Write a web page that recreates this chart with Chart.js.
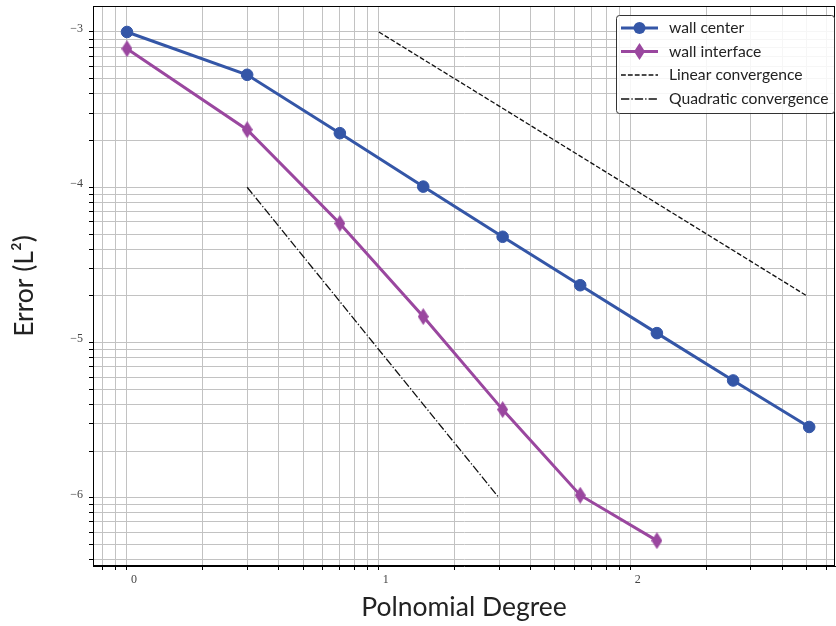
<!DOCTYPE html>
<html>
<head>
<meta charset="utf-8">
<script src="https://cdn.jsdelivr.net/npm/chart.js@4"></script>
<style>
  body { margin: 0; background: #fff; }
</style>
</head>
<body>
<canvas id="myChart" width="836" height="626"></canvas>
<script>
// values (log-log plot)
let degrees = [1, 3, 7, 15, 31, 63, 127, 255, 511];
let wallCenter = [1.0e-3, 5.3e-4, 2.23e-4, 1.01e-4, 4.8e-5, 2.34e-5, 1.15e-5, 5.7e-6, 2.86e-6];
let interfaceDegrees = [1, 3, 7, 15, 31, 63, 127];
let wallInterface = [7.8e-4, 2.35e-4, 5.85e-5, 1.47e-5, 3.7e-6, 1.04e-6, 5.3e-7];
let linearX = [10, 500];
let linearY = [1e-3, 2e-5];
let quadX = [3, 30];
let quadY = [1e-4, 1e-6];

let xMajor = [1, 10, 100];
let xMajorLabels = ["0", "1", "2"];
let yMajor = [1e-3, 1e-4, 1e-5, 1e-6];
let yMajorLabels = ["\u22123", "\u22124", "\u22125", "\u22126"];

const blue = "#3456a7";
const purple = "#9a479f";

function pts(xs, ys) {
  return xs.map((x, i) => ({ x: x, y: ys[i] }));
}

// thin diamond marker
const diamond = document.createElement("canvas");
diamond.width = 11;
diamond.height = 17;
{
  const c = diamond.getContext("2d");
  c.fillStyle = purple;
  c.beginPath();
  c.moveTo(5.5, 0);
  c.lineTo(11, 8.5);
  c.lineTo(5.5, 17);
  c.lineTo(0, 8.5);
  c.closePath();
  c.fill();
}

// log grid: 1..9 x 10^n inside the range
function logTicks(scale) {
  const out = [];
  for (let e = Math.floor(Math.log10(scale.min)); e <= Math.ceil(Math.log10(scale.max)); e++) {
    for (let m = 1; m <= 9; m++) {
      const v = m * Math.pow(10, e);
      if (v >= scale.min && v <= scale.max) out.push({ value: v });
    }
  }
  scale.ticks = out;
}

function noPad(s) {
  s.paddingTop = 0;
  s.paddingBottom = 0;
  s.paddingLeft = 0;
  s.paddingRight = 0;
}

function majorLabel(value, majors, labels) {
  for (let i = 0; i < majors.length; i++) {
    if (Math.abs(value / majors[i] - 1) < 1e-6) return labels[i];
  }
  return "";
}

const framePlugin = {
  id: "frame",
  afterDraw(chart) {
    const { ctx, chartArea: a } = chart;
    ctx.save();
    ctx.strokeStyle = "#000";
    ctx.lineWidth = 1;
    ctx.strokeRect(a.left + 0.5, a.top + 0.5, a.right - a.left - 1, a.bottom - a.top - 1);

    // legend box in the upper right
    const bx = 616, by = 15, bw = 218, bh = 98, r = 3;
    ctx.fillStyle = "rgba(255,255,255,0.85)";
    ctx.strokeStyle = "#333";
    ctx.beginPath();
    ctx.roundRect(bx + 0.5, by + 0.5, bw, bh, r);
    ctx.fill();
    ctx.stroke();

    const rows = [28, 51.5, 75, 99];
    chart.data.datasets.forEach((ds, i) => {
      const y = rows[i];
      ctx.save();
      ctx.strokeStyle = ds.borderColor;
      ctx.lineWidth = ds.borderWidth;
      ctx.setLineDash(ds.borderDash || []);
      ctx.beginPath();
      ctx.moveTo(621, y);
      ctx.lineTo(658, y);
      ctx.stroke();
      ctx.restore();
      if (ds.pointStyle === "circle") {
        ctx.fillStyle = ds.backgroundColor;
        ctx.beginPath();
        ctx.arc(639.5, y, 6, 0, Math.PI * 2);
        ctx.fill();
      } else if (ds.pointStyle instanceof HTMLCanvasElement) {
        ctx.drawImage(ds.pointStyle, 639.5 - 5.5, y - 8.5);
      }
      ctx.fillStyle = "#222";
      ctx.font = "15.7px Lato";
      ctx.textBaseline = "middle";
      ctx.fillText(ds.label, 669, y);
    });
    ctx.restore();
  }
};

const ctx = document.getElementById("myChart");

new Chart(ctx, {
  type: "line",
  data: {
    datasets: [
      {
        label: "wall center",
        data: pts(degrees, wallCenter),
        borderColor: blue,
        backgroundColor: blue,
        borderWidth: 3,
        pointStyle: "circle",
        pointRadius: 5.8,
        pointBorderWidth: 1
      },
      {
        label: "wall interface",
        data: pts(interfaceDegrees, wallInterface),
        borderColor: purple,
        backgroundColor: purple,
        borderWidth: 3,
        pointStyle: diamond,
        pointRadius: 8
      },
      {
        label: "Linear convergence",
        data: pts(linearX, linearY),
        borderColor: "#111",
        borderWidth: 1.3,
        borderDash: [4.8, 2.1],
        pointRadius: 0
      },
      {
        label: "Quadratic convergence",
        data: pts(quadX, quadY),
        borderColor: "#111",
        borderWidth: 1.3,
        borderDash: [8.3, 2.1, 1.3, 2.1],
        pointRadius: 0
      }
    ]
  },
  options: {
    responsive: false,
    animation: false,
    layout: { autoPadding: false, padding: { top: 6, right: 1, left: 0, bottom: 0 } },
    plugins: {
      legend: { display: false },
      tooltip: { enabled: false }
    },
    scales: {
      x: {
        type: "logarithmic",
        bounds: "data",
        min: 0.733,
        max: 647,
        afterBuildTicks: logTicks,
        afterFit: (s) => { s.height = 60; noPad(s); },
        border: { color: "#000", width: 1 },
        grid: { color: "#c2c2c2", lineWidth: 1, tickColor: "#000", tickLength: 4, tickWidth: 1 },
        ticks: {
          autoSkip: false,
          maxRotation: 0,
          padding: 3,
          labelOffset: 7,
          color: "#444",
          font: { family: "Liberation Serif", size: 12 },
          callback: (v) => majorLabel(v, xMajor, xMajorLabels)
        },
        title: {
          display: true,
          text: "Polnomial Degree",
          color: "#222",
          font: { family: "Lato", size: 26.5 },
          padding: { top: 0, bottom: 3 }
        }
      },
      y: {
        type: "logarithmic",
        bounds: "data",
        min: 3.64e-7,
        max: 1.47e-3,
        afterBuildTicks: logTicks,
        afterFit: (s) => { s.width = 93; noPad(s); },
        border: { color: "#000", width: 1 },
        grid: { color: "#c2c2c2", lineWidth: 1, tickColor: "#000", tickLength: 4, tickWidth: 1 },
        ticks: {
          autoSkip: false,
          padding: 6,
          labelOffset: -3.5,
          color: "#444",
          font: { family: "Liberation Serif", size: 12 },
          callback: (v) => majorLabel(v, yMajor, yMajorLabels)
        },
        title: {
          display: true,
          text: "Error (L\u00b2)",
          color: "#222",
          font: { family: "Lato", size: 26.5 },
          padding: { top: 9, bottom: 0 }
        }
      }
    }
  },
  plugins: [framePlugin]
});
</script>
</body>
</html>
